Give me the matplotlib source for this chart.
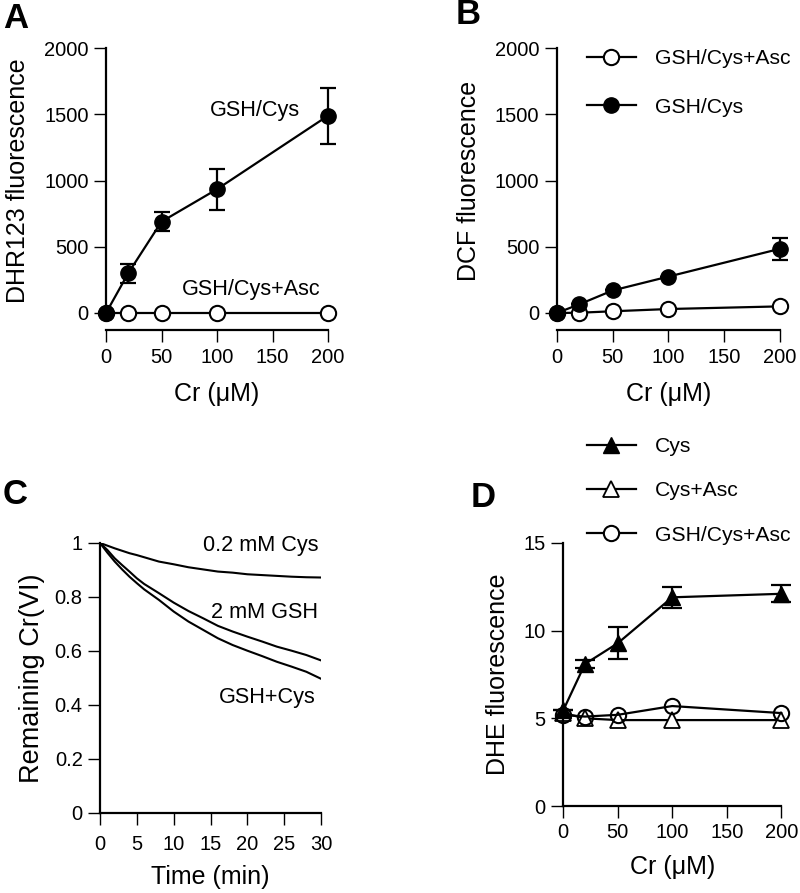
import matplotlib
matplotlib.use('Agg')
import matplotlib.pyplot as plt
from matplotlib.lines import Line2D

plt.rcParams['font.family'] = ['Liberation Sans', 'DejaVu Sans']

# ---- data ----
cr = [0, 20, 50, 100, 200]

# panel A: DHR123 fluorescence
dhr_gsh_cys = [0, 300, 690, 935, 1490]
dhr_gsh_cys_err = [0, 70, 70, 155, 210]
dhr_gsh_cys_asc = [0, 0, 0, 0, 0]

# panel B: DCF fluorescence
dcf_gsh_cys = [0, 65, 170, 275, 485]
dcf_gsh_cys_err = [0, 0, 0, 0, 85]
dcf_gsh_cys_asc = [0, 2, 13, 30, 50]

# panel C: remaining Cr(VI) over time
time_min = [0, 1, 2, 3, 4, 5, 6, 8, 10, 12, 14, 16, 18, 20, 22, 24, 26, 28, 30]
cys_02 = [1.0, 0.99, 0.98, 0.971, 0.962, 0.955, 0.947, 0.931, 0.921, 0.91, 0.902,
          0.894, 0.89, 0.884, 0.881, 0.878, 0.875, 0.873, 0.872]
gsh_2 = [1.0, 0.974, 0.943, 0.918, 0.894, 0.869, 0.848, 0.814, 0.779, 0.748, 0.721,
         0.693, 0.672, 0.653, 0.635, 0.616, 0.601, 0.585, 0.565]
gsh_cys = [1.0, 0.964, 0.931, 0.902, 0.875, 0.851, 0.828, 0.789, 0.746, 0.709, 0.678,
           0.647, 0.622, 0.601, 0.581, 0.56, 0.542, 0.523, 0.497]

# panel D: DHE fluorescence
dhe_cys = [5.45, 8.1, 9.28, 11.9, 12.1]
dhe_cys_err = [0, 0.22, 0.9, 0.6, 0.48]
dhe_cys_asc = [5.3, 5.0, 4.9, 4.9, 4.9]
dhe_gsh_cys_asc = [5.2, 5.1, 5.2, 5.7, 5.3]

TICK = 14.5
LABEL = 18
ANNOT = 15.6
LEG = 15.2

fig = plt.figure(figsize=(8, 8.93), dpi=100)


def style(ax, offset=0):
    for s in ['top', 'right']:
        ax.spines[s].set_visible(False)
    for s in ['left', 'bottom']:
        ax.spines[s].set_linewidth(1.6)
    if offset:
        ax.spines['bottom'].set_position(('outward', offset))
    ax.tick_params(direction='out', length=8.5, width=1.0, labelsize=TICK, pad=4)


# ---- A ----
axA = fig.add_axes([0.1325, 0.6495, 0.2775, 0.2965])
style(axA, offset=12.5)
axA.errorbar(cr, dhr_gsh_cys, yerr=dhr_gsh_cys_err, color='black', lw=1.6,
             marker='o', ms=11, mfc='black', capsize=6, elinewidth=1.6,
             capthick=1.6, clip_on=False, zorder=3)
axA.plot(cr, dhr_gsh_cys_asc, color='black', lw=1.6, marker='o', ms=11,
         mfc='white', mew=1.5, clip_on=False, zorder=2)
axA.set_xlim(0, 200)
axA.set_ylim(0, 2000)
axA.set_xticks([0, 50, 100, 150, 200])
axA.set_yticks([0, 500, 1000, 1500, 2000])
axA.set_xlabel('Cr (\u03bcM)', fontsize=LABEL, labelpad=11)
axA.set_ylabel('DHR123 fluorescence', fontsize=LABEL, labelpad=10)
axA.text(134, 1532, 'GSH/Cys', fontsize=ANNOT, ha='center', va='center')
axA.text(131, 181, 'GSH/Cys+Asc', fontsize=ANNOT, ha='center', va='center')

# ---- B ----
axB = fig.add_axes([0.696, 0.6495, 0.279, 0.2965])
style(axB, offset=12.5)
axB.plot(cr, dcf_gsh_cys_asc, color='black', lw=1.6, marker='o', ms=11,
         mfc='white', mew=1.5, clip_on=False, zorder=2)
axB.errorbar(cr, dcf_gsh_cys, yerr=dcf_gsh_cys_err, color='black', lw=1.6,
             marker='o', ms=11, mfc='black', capsize=6, elinewidth=1.6,
             capthick=1.6, clip_on=False, zorder=3)
axB.set_xlim(0, 200)
axB.set_ylim(0, 2000)
axB.set_xticks([0, 50, 100, 150, 200])
axB.set_yticks([0, 500, 1000, 1500, 2000])
axB.set_xlabel('Cr (\u03bcM)', fontsize=LABEL, labelpad=11)
axB.set_ylabel('DCF fluorescence', fontsize=LABEL, labelpad=10)
hB = [Line2D([], [], color='black', lw=1.6, marker='o', ms=11, mfc='white', mew=1.5),
      Line2D([], [], color='black', lw=1.6, marker='o', ms=11, mfc='black')]
axB.legend(hB, ['GSH/Cys+Asc', 'GSH/Cys'], loc='upper left', frameon=False,
           fontsize=LEG, handlelength=2.3, handletextpad=0.9, labelspacing=1.4,
           borderpad=0, borderaxespad=0,
           bbox_to_anchor=(587 / 800, 1 - 49 / 893), bbox_transform=fig.transFigure)

# ---- C ----
axC = fig.add_axes([0.125, 0.0896, 0.2763, 0.3024])
style(axC)
axC.tick_params(axis='x', pad=7)
axC.plot(time_min, cys_02, color='black', lw=1.5)
axC.plot(time_min, gsh_2, color='black', lw=1.5)
axC.plot(time_min, gsh_cys, color='black', lw=1.5)
axC.set_xlim(0, 30)
axC.set_ylim(0, 1)
axC.set_xticks([0, 5, 10, 15, 20, 25, 30])
axC.set_yticks([0, 0.2, 0.4, 0.6, 0.8, 1])
axC.set_yticklabels(['0', '0.2', '0.4', '0.6', '0.8', '1'])
axC.set_xlabel('Time (min)', fontsize=LABEL, labelpad=8)
axC.set_ylabel('Remaining Cr(VI)', fontsize=19.5, labelpad=7)
axC.text(29.6, 0.989, '0.2 mM Cys', fontsize=ANNOT, ha='right', va='center')
axC.text(29.6, 0.741, '2 mM GSH', fontsize=ANNOT, ha='right', va='center')
axC.text(29.2, 0.426, 'GSH+Cys', fontsize=ANNOT, ha='right', va='center')

# ---- D ----
axD = fig.add_axes([0.704, 0.0974, 0.2725, 0.2946])
style(axD)
axD.plot(cr, dhe_cys_asc, color='black', lw=1.6, marker='^', ms=11,
         mfc='white', mew=1.3, clip_on=False, zorder=2)
axD.plot(cr, dhe_gsh_cys_asc, color='black', lw=1.6, marker='o', ms=11,
         mfc='none', mew=1.5, clip_on=False, zorder=2)
axD.errorbar(cr, dhe_cys, yerr=dhe_cys_err, color='black', lw=1.6,
             marker='^', ms=12, mfc='black', capsize=7, elinewidth=1.6,
             capthick=1.6, clip_on=False, zorder=3)
axD.set_xlim(0, 200)
axD.set_ylim(0, 15)
axD.set_xticks([0, 50, 100, 150, 200])
axD.set_yticks([0, 5, 10, 15])
axD.set_xlabel('Cr (\u03bcM)', fontsize=LABEL, labelpad=9)
axD.set_ylabel('DHE fluorescence', fontsize=LABEL, labelpad=10)
hD = [Line2D([], [], color='black', lw=1.6, marker='^', ms=12, mfc='black'),
      Line2D([], [], color='black', lw=1.6, marker='^', ms=11, mfc='white', mew=1.3),
      Line2D([], [], color='black', lw=1.6, marker='o', ms=11, mfc='white', mew=1.5)]
axD.legend(hD, ['Cys', 'Cys+Asc', 'GSH/Cys+Asc'], loc='upper left', frameon=False,
           fontsize=LEG, handlelength=2.3, handletextpad=0.9, labelspacing=1.2,
           borderpad=0, borderaxespad=0,
           bbox_to_anchor=(587 / 800, 1 - 437 / 893), bbox_transform=fig.transFigure)

# panel letters
for lab, x, y in [('A', 16, 18), ('B', 468, 15), ('C', 15, 495), ('D', 483, 497)]:
    fig.text(x / 800, 1 - y / 893, lab, fontsize=25, fontweight='bold',
             ha='center', va='center')

fig.savefig('out.png', dpi=100)
